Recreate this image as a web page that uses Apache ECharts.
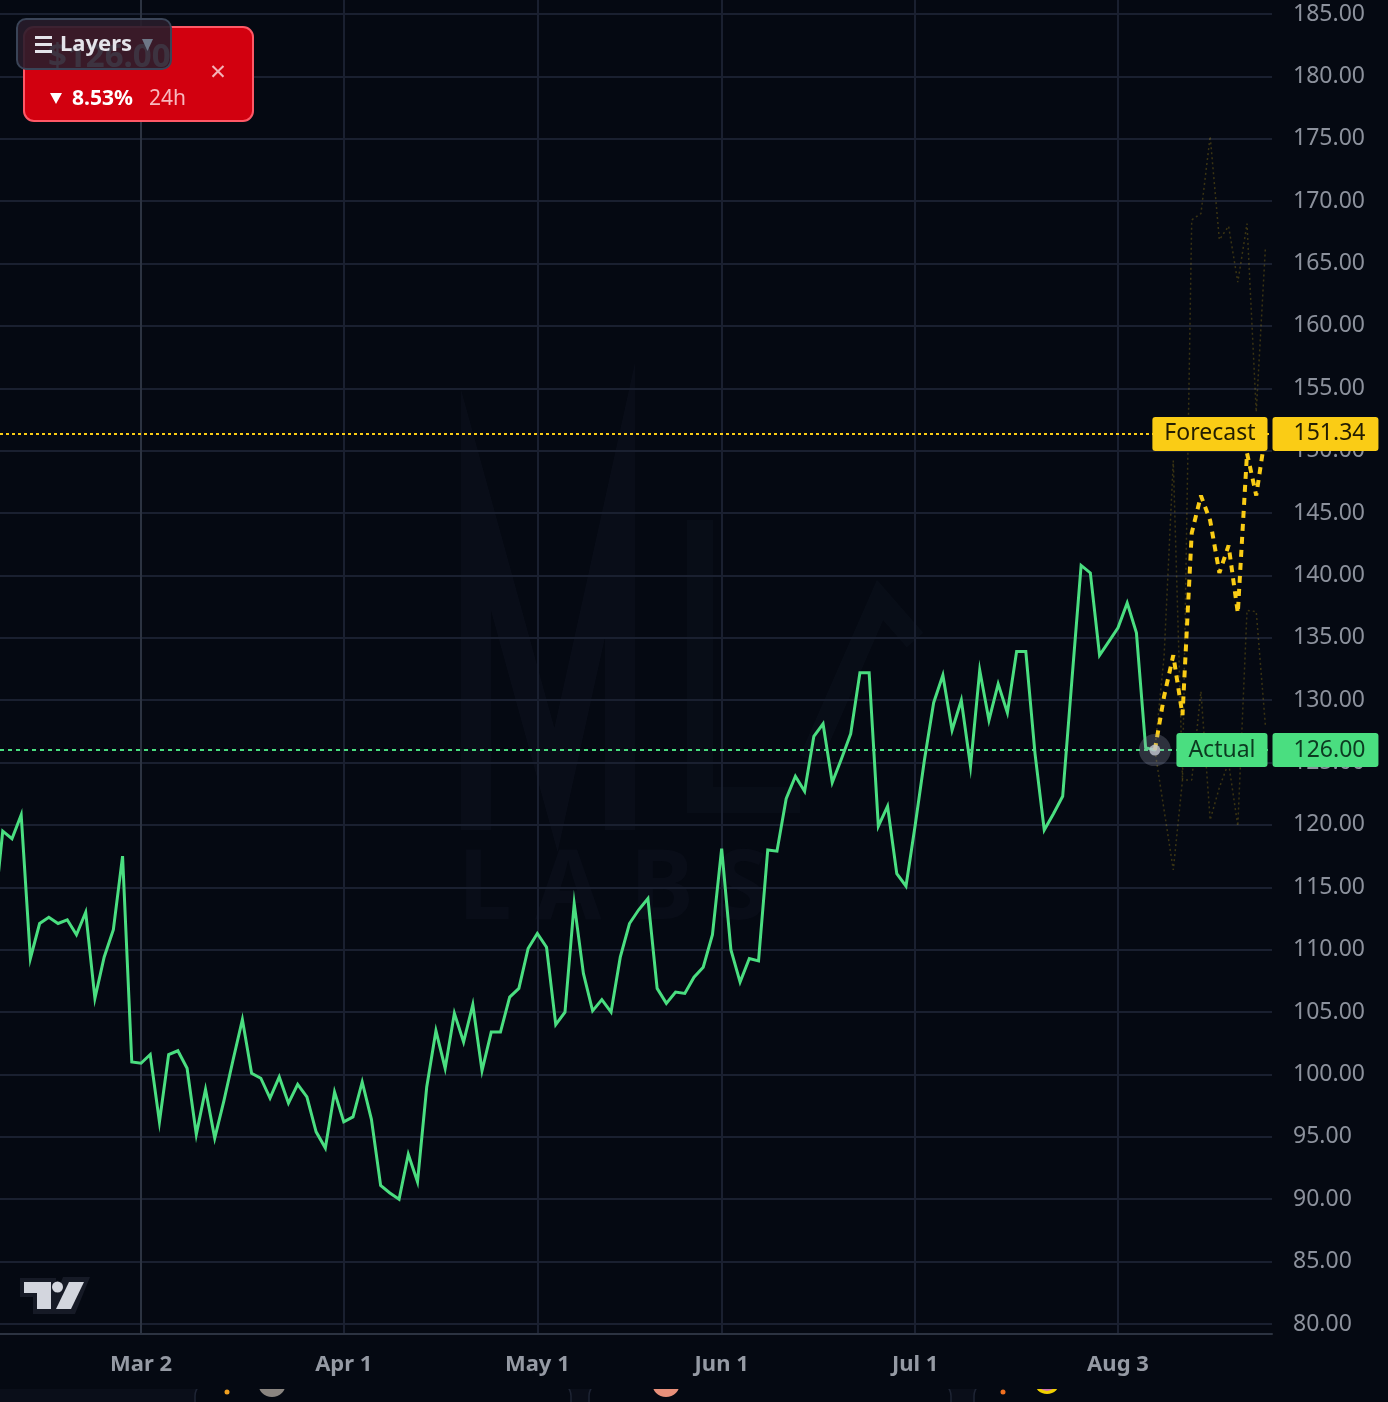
<!DOCTYPE html>
<html>
<head>
<meta charset="utf-8">
<script src="https://cdn.jsdelivr.net/npm/echarts@6/dist/echarts.min.js"></script>
<style>
html,body{margin:0;padding:0;background:#050912;}
#c{width:1388px;height:1402px;}
</style>
</head>
<body>
<div id="c"></div>
<script>
// ---------- data ----------
const dateTickLabels = ['Mar 2', 'Apr 1', 'May 1', 'Jun 1', 'Jul 1', 'Aug 3'];
const dateTickIndex  = [0, 22, 43, 63, 84, 106];          // bar index of each date label
const priceTicks = [80, 85, 90, 95, 100, 105, 110, 115, 120, 125, 130, 135, 140, 145, 150, 155, 160, 165, 170, 175, 180, 185];

const actualStart = -16;   // bar index of first actual value
const actualValues = [
  112.3, 119.5, 118.9, 120.8, 109.3, 112.1, 112.6, 112.1, 112.4, 111.2,
  113.0, 106.1, 109.4, 111.6, 117.5, 101.0,
  100.9, 101.6, 96.2, 101.6, 101.9, 100.5, 95.2, 98.8, 94.9, 97.9,
  101.2, 104.4, 100.1, 99.7, 98.1, 99.8, 97.7, 99.2, 98.2, 95.4,
  94.1, 98.6, 96.2, 96.6, 99.4, 96.4, 91.1, 90.5, 90.0, 93.6,
  91.4, 99.0, 103.5, 100.5, 104.9, 102.6, 105.6, 100.3, 103.4, 103.4,
  106.2, 106.9, 110.1, 111.3, 110.2, 104.0, 105.0, 113.7, 108.1, 105.1,
  106.0, 105.0, 109.4, 112.1, 113.2, 114.1, 106.9, 105.7, 106.6, 106.5,
  107.8, 108.6, 111.2, 118.1, 110.0, 107.4, 109.3, 109.1, 118.0, 117.9,
  122.1, 123.9, 122.7, 127.1, 128.1, 123.4, 125.3, 127.3, 132.2, 132.2,
  119.9, 121.5, 116.1, 115.1, 120.0, 125.2, 129.8, 132.0, 127.6, 130.0,
  124.7, 132.4, 128.4, 131.3, 129.0, 133.9, 133.9, 125.7, 119.6, 120.9,
  122.3, 131.6, 140.8, 140.2, 133.6, 134.7, 135.8, 137.8, 135.4, 126.2,
  126.0
];

const forecastStart = 110;
const forecastValues  = [126.0, 130.3, 133.6, 128.8, 143.4, 146.4, 144.4, 140.2, 142.4, 137.0, 149.8, 146.4, 151.34];
const upperBandValues = [126.0, 133.5, 149.2, 123.6, 168.5, 169.0, 175.2, 166.9, 168.0, 163.5, 168.2, 153.1, 166.35];
const lowerBandValues = [126.0, 121.2, 116.4, 123.6, 123.6, 130.7, 120.4, 123.0, 125.0, 119.9, 137.2, 137.1, 127.9];

const actualLast = 126.00;
const actualLastIndex = 110;
const forecastLast = 151.34;
const actualLabel = 'Actual';
const forecastLabel = 'Forecast';

// ---------- layout ----------
const X_MIN = -15.298, X_MAX = 122.71;
const Y_MIN = 79.198, Y_MAX = 186.122;
const FONT = 'Noto Sans';
const GREEN = '#4ade80', YELLOW = '#facc15';
const BG = '#050912';

const toPairs = (start, arr) => arr.map((v, i) => [start + i, v]);

const chart = echarts.init(document.getElementById('c'), null, {renderer: 'canvas'});

const boxLabel = (text, bg, fg, pos, pad, dist) => ({
  show: true, position: pos, distance: dist, formatter: text,
  backgroundColor: bg, color: fg, fontSize: 23, fontFamily: FONT,
  lineHeight: 24, padding: pad, borderRadius: 3
});

const option = {
  backgroundColor: BG,
  animation: false,
  textStyle: {fontFamily: FONT},
  grid: {left: 0, right: 116, top: 0, bottom: 68, containLabel: false},
  xAxis: {
    type: 'value', min: X_MIN, max: X_MAX,
    axisLine: {show: true, lineStyle: {color: '#2c3341', width: 2}},
    axisTick: {show: false, customValues: dateTickIndex},
    axisLabel: {
      customValues: dateTickIndex,
      formatter: v => dateTickLabels[dateTickIndex.indexOf(Math.round(v))] || '',
      color: '#959aa4', fontSize: 22, fontWeight: 'bold', fontFamily: FONT, margin: 20
    },
    splitLine: {show: true, lineStyle: {color: '#1a2030', width: 2}}
  },
  yAxis: {
    type: 'value', position: 'right', min: Y_MIN, max: Y_MAX,
    axisLine: {show: true, lineStyle: {color: '#2c3341', width: 2}},
    axisTick: {show: false, customValues: priceTicks},
    axisLabel: {
      customValues: priceTicks,
      formatter: v => Number(v).toFixed(2),
      color: '#8c919c', fontSize: 23, fontFamily: FONT, margin: 21
    },
    splitLine: {show: true, lineStyle: {color: '#1a2030', width: 2}}
  },
  series: [
    {
      type: 'line', name: 'upper', data: toPairs(forecastStart, upperBandValues),
      symbol: 'none', z: 2,
      lineStyle: {color: 'rgba(250,204,21,0.22)', width: 1.5, type: [2, 3]}
    },
    {
      type: 'line', name: 'lower', data: toPairs(forecastStart, lowerBandValues),
      symbol: 'none', z: 2,
      lineStyle: {color: 'rgba(250,204,21,0.22)', width: 1.5, type: [2, 3]}
    },
    {
      type: 'line', name: 'actual', data: toPairs(actualStart, actualValues),
      symbol: 'none', z: 4,
      lineStyle: {color: GREEN, width: 3, join: 'miter'},
      markLine: {
        silent: true, symbol: 'none', animation: false,
        label: {show: false},
        lineStyle: {color: GREEN, type: [4, 4], width: 2},
        data: [{yAxis: actualLast}]
      }
    },
    {
      type: 'line', name: 'forecast', data: toPairs(forecastStart, forecastValues),
      symbol: 'none', z: 5,
      lineStyle: {color: YELLOW, width: 4, type: [7, 6]},
      markLine: {
        silent: true, symbol: 'none', animation: false,
        label: {show: false},
        lineStyle: {color: YELLOW, type: [3, 3], width: 2},
        data: [{yAxis: forecastLast}]
      }
    },
    {
      type: 'scatter', name: 'halo', z: 6, silent: true,
      data: [[actualLastIndex, actualLast]], symbolSize: 32,
      itemStyle: {color: 'rgba(150,156,172,0.35)'}
    },
    {
      type: 'scatter', name: 'dot', z: 7, silent: true,
      data: [[actualLastIndex, actualLast]], symbolSize: 11,
      itemStyle: {color: '#c6c9d2'}
    },
    {
      type: 'scatter', name: 'labels', z: 20, silent: true, data: [],
      markPoint: {
        symbol: 'circle', symbolSize: 1, itemStyle: {color: 'rgba(0,0,0,0)'},
        animation: false,
        data: [
          {coord: [X_MAX, forecastLast], label: boxLabel(forecastLabel, YELLOW, '#231d02', 'left', [5, 12, 5, 12], 4)},
          {coord: [X_MAX, forecastLast], label: boxLabel(forecastLast.toFixed(2), YELLOW, '#231d02', 'right', [5, 13, 5, 21], 0)},
          {coord: [X_MAX, actualLast], label: boxLabel(actualLabel, GREEN, '#0c3a20', 'left', [5, 12, 5, 12], 4)},
          {coord: [X_MAX, actualLast], label: boxLabel(actualLast.toFixed(2), GREEN, '#0c3a20', 'right', [5, 13, 5, 21], 0)}
        ]
      }
    }
  ],
  graphic: [
    // faint watermark
    {type: 'polyline', z: 0, silent: true, shape: {points: [[476, 830], [476, 500], [556, 790], [620, 500], [620, 830]]},
      style: {stroke: 'rgba(130,150,190,0.035)', lineWidth: 30, fill: null}},
    {type: 'polyline', z: 0, silent: true, shape: {points: [[700, 520], [700, 800], [800, 800]]},
      style: {stroke: 'rgba(130,150,190,0.03)', lineWidth: 26, fill: null}},
    {type: 'polyline', z: 0, silent: true, shape: {points: [[810, 760], [880, 600], [915, 640]]},
      style: {stroke: 'rgba(130,150,190,0.03)', lineWidth: 22, fill: null}},
    {type: 'text', z: 0, silent: true, style: {text: 'L', x: 458, y: 892, font: 'bold 96px Noto Sans', fill: 'rgba(130,150,190,0.035)', textVerticalAlign: 'middle'}},
    {type: 'text', z: 0, silent: true, style: {text: 'A', x: 535, y: 892, font: 'bold 96px Noto Sans', fill: 'rgba(130,150,190,0.035)', textVerticalAlign: 'middle'}},
    {type: 'text', z: 0, silent: true, style: {text: 'B', x: 630, y: 892, font: 'bold 96px Noto Sans', fill: 'rgba(130,150,190,0.035)', textVerticalAlign: 'middle'}},
    {type: 'text', z: 0, silent: true, style: {text: 'S', x: 715, y: 892, font: 'bold 96px Noto Sans', fill: 'rgba(130,150,190,0.035)', textVerticalAlign: 'middle'}},

    // TradingView logo
    {type: 'polygon', z: 50, silent: true, shape: {points: [[20, 1278], [56, 1278], [56, 1314], [33, 1314], [33, 1297], [20, 1297]]}, style: {fill: '#161a26'}},
    {type: 'polygon', z: 50, silent: true, shape: {points: [[63, 1277], [90, 1277], [75, 1314], [48, 1314]]}, style: {fill: '#161a26'}},
    {type: 'polygon', z: 51, silent: true, shape: {points: [[24, 1282], [51, 1282], [51, 1309], [37, 1309], [37, 1293], [24, 1293]]}, style: {fill: '#d3d6de'}},
    {type: 'circle', z: 51, silent: true, shape: {cx: 57.5, cy: 1287, r: 5.5}, style: {fill: '#d3d6de'}},
    {type: 'polygon', z: 51, silent: true, shape: {points: [[69, 1282], [84, 1282], [71, 1309], [56, 1309]]}, style: {fill: '#d3d6de'}},

    // bottom strip (cut-off page content below the chart)
    {type: 'rect', z: 50, silent: true, shape: {x: 0, y: 1389, width: 1388, height: 13}, style: {fill: '#0a0e19'}},
    {type: 'rect', z: 51, silent: true, shape: {x: 195, y: 1382, width: 376, height: 40, r: 14}, style: {fill: BG, stroke: '#1e2434', lineWidth: 1.5}},
    {type: 'rect', z: 51, silent: true, shape: {x: 589, y: 1382, width: 362, height: 40, r: 14}, style: {fill: BG, stroke: '#1e2434', lineWidth: 1.5}},
    {type: 'rect', z: 51, silent: true, shape: {x: 974, y: 1382, width: 430, height: 40, r: 14}, style: {fill: BG, stroke: '#1e2434', lineWidth: 1.5}},
    {type: 'rect', z: 52, silent: true, shape: {x: 0, y: 1378, width: 1388, height: 11}, style: {fill: BG}},
    {type: 'circle', z: 53, silent: true, shape: {cx: 227, cy: 1392, r: 2.5}, style: {fill: '#f0a020'}},
    {type: 'circle', z: 53, silent: true, shape: {cx: 1003, cy: 1392, r: 2.5}, style: {fill: '#f07020'}},
    {type: 'circle', z: 53, silent: true, shape: {cx: 272, cy: 1383, r: 14}, style: {fill: '#8a8580'}},
    {type: 'circle', z: 53, silent: true, shape: {cx: 666, cy: 1383, r: 14}, style: {fill: '#e8907a'}},
    {type: 'circle', z: 53, silent: true, shape: {cx: 1047, cy: 1381, r: 13}, style: {fill: '#f0d000'}},
    {type: 'circle', z: 54, silent: true, shape: {cx: 1047, cy: 1381, r: 10}, style: {fill: '#d070b0'}},
    {type: 'rect', z: 55, silent: true, shape: {x: 255, y: 1366, width: 36, height: 23}, style: {fill: BG}},
    {type: 'rect', z: 55, silent: true, shape: {x: 649, y: 1366, width: 36, height: 23}, style: {fill: BG}},
    {type: 'rect', z: 55, silent: true, shape: {x: 1030, y: 1366, width: 36, height: 23}, style: {fill: BG}},

    // red price badge
    {type: 'rect', z: 100, silent: true, shape: {x: 24, y: 27, width: 229, height: 94, r: 10}, style: {fill: '#d2000f', stroke: '#ff5866', lineWidth: 2}},
    {type: 'text', z: 101, silent: true, style: {text: '$126.00', x: 48, y: 58, font: 'bold 33px Noto Sans', fill: '#ffffff', textVerticalAlign: 'middle'}},
    {type: 'text', z: 101, silent: true, style: {text: '×', x: 218, y: 73, font: '28px Noto Sans', fill: '#f4b2b8', textAlign: 'center', textVerticalAlign: 'middle'}},
    {type: 'polygon', z: 101, silent: true, shape: {points: [[50, 93], [62, 93], [56, 104]]}, style: {fill: '#ffffff'}},
    {type: 'text', z: 101, silent: true, style: {text: '8.53%', x: 72, y: 99, font: 'bold 21px Noto Sans', fill: '#ffffff', textVerticalAlign: 'middle'}},
    {type: 'text', z: 101, silent: true, style: {text: '24h', x: 149, y: 99, font: '21px Noto Sans', fill: '#f8b8be', textVerticalAlign: 'middle'}},

    // Layers button
    {type: 'rect', z: 110, silent: true, shape: {x: 17, y: 19, width: 154, height: 50, r: 9}, style: {fill: 'rgba(40,29,43,0.9)', stroke: '#3a4457', lineWidth: 2}},
    {type: 'rect', z: 111, silent: true, shape: {x: 35, y: 36, width: 17, height: 3}, style: {fill: '#e4e4ea'}},
    {type: 'rect', z: 111, silent: true, shape: {x: 35, y: 43, width: 17, height: 3}, style: {fill: '#e4e4ea'}},
    {type: 'rect', z: 111, silent: true, shape: {x: 35, y: 50, width: 17, height: 3}, style: {fill: '#e4e4ea'}},
    {type: 'text', z: 111, silent: true, style: {text: 'Layers', x: 60, y: 45, font: 'bold 22px Noto Sans', fill: '#e4e4ea', textVerticalAlign: 'middle'}},
    {type: 'polygon', z: 111, silent: true, shape: {points: [[142, 39], [153, 39], [147.5, 51]]}, style: {fill: '#6e7787'}}
  ]
};

chart.setOption(option);
</script>
</body>
</html>
